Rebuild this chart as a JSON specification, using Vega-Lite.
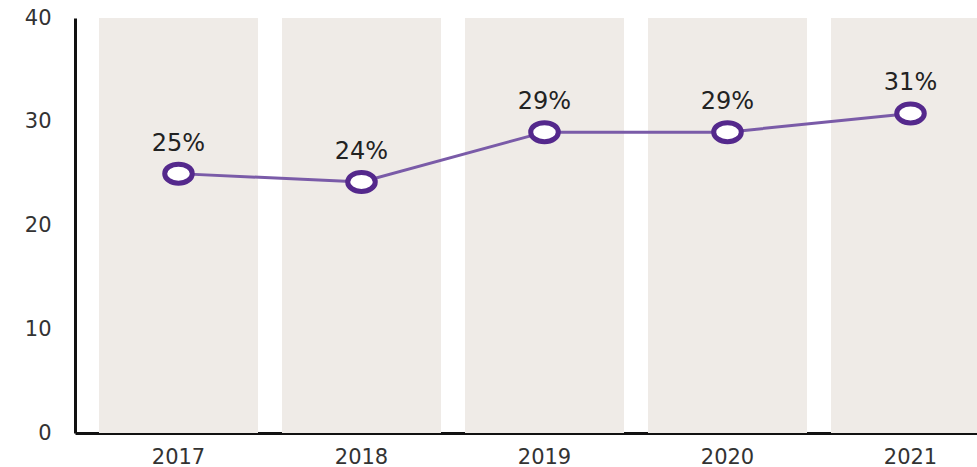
{
  "$schema": "https://vega.github.io/schema/vega-lite/v6.json",
  "autosize": {"type": "none"},
  "width": 939,
  "height": 415,
  "padding": {"left": 75, "top": 18, "right": 0, "bottom": 34},
  "background": "white",
  "config": {
    "view": {"stroke": null},
    "font": "DejaVu Sans",
    "axis": {
      "domainColor": "#111111",
      "domainWidth": 3,
      "ticks": false,
      "grid": false,
      "zindex": 1,
      "labelFont": "DejaVu Sans",
      "labelFontSize": 21,
      "labelColor": "#333333",
      "title": null
    }
  },
  "data": {
    "values": [
      {"year": "2017", "value": 25.0, "label": "25%"},
      {"year": "2018", "value": 24.2, "label": "24%"},
      {"year": "2019", "value": 29.0, "label": "29%"},
      {"year": "2020", "value": 29.0, "label": "29%"},
      {"year": "2021", "value": 30.8, "label": "31%"}
    ]
  },
  "encoding": {
    "x": {
      "field": "year",
      "type": "ordinal",
      "scale": {"type": "band", "paddingInner": 0.131, "paddingOuter": 0.131},
      "axis": {"labelAngle": 0, "labelPadding": 13, "title": null}
    }
  },
  "layer": [
    {
      "mark": {"type": "bar", "color": "#efebe7"},
      "encoding": {
        "y": {
          "datum": 40,
          "type": "quantitative",
          "scale": {"domain": [0, 40], "nice": false},
          "axis": {"values": [0, 10, 20, 30, 40], "labelPadding": 24, "title": null}
        }
      }
    },
    {
      "mark": {"type": "line", "color": "#7a5ba8", "strokeWidth": 3},
      "encoding": {"y": {"field": "value", "type": "quantitative"}}
    },
    {
      "mark": {
        "type": "point",
        "shape": "M-1.45,0 A1.45,1 0 1,0 1.45,0 A1.45,1 0 1,0 -1.45,0 Z",
        "filled": true,
        "fill": "white",
        "stroke": "#54288c",
        "strokeWidth": 5,
        "size": 361,
        "opacity": 1
      },
      "encoding": {"y": {"field": "value", "type": "quantitative"}}
    },
    {
      "mark": {"type": "text", "dy": -30, "fontSize": 24, "color": "#222222", "font": "DejaVu Sans"},
      "encoding": {
        "y": {"field": "value", "type": "quantitative"},
        "text": {"field": "label"}
      }
    }
  ],
  "resolve": {"scale": {"y": "shared"}}
}
